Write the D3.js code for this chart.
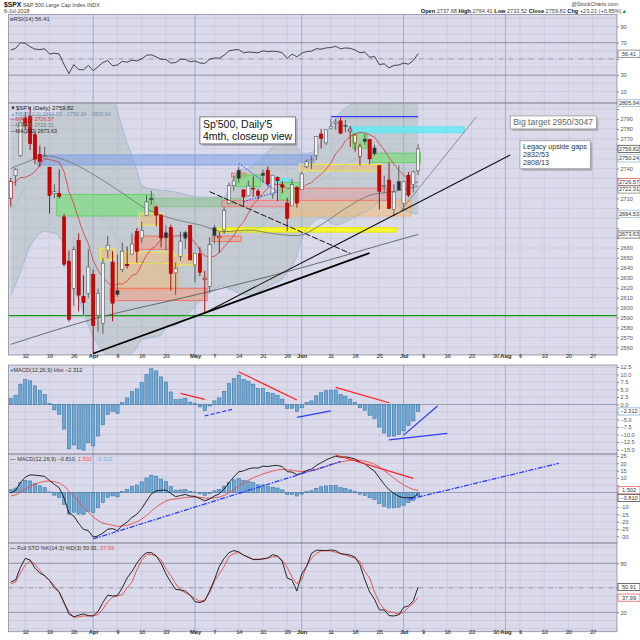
<!DOCTYPE html>
<html>
<head>
<meta charset="utf-8">
<script src="https://cdn.jsdelivr.net/npm/d3@7"></script>
<style>
  body { margin: 0; background: #fff; }
  svg { display: block; font-family: "Liberation Sans", Arial, sans-serif; }
</style>
</head>
<body>
<div id="chart"></div>
<script>
// ---------------- data ----------------
const holidays = ["2018-03-30", "2018-05-28", "2018-07-04", "2018-09-03"];
const priorClose = 2728.12;

const opens = [2710.18,2732.75,2752.91,2790.54,2792.31,2774.06,2754.27,2750.57,2741.38,2715.05,
  2714.99,2691.36,2646.71,2619.35,2667.57,2611.30,2614.41,2633.45,2592.17,2584.04,
  2657.36,2645.82,2617.18,2638.41,2643.56,2653.83,2676.90,2670.10,2692.74,2710.11,
  2701.16,2692.56,2675.40,2680.80,2634.92,2651.65,2675.47,2682.51,2642.96,2654.24,
  2628.08,2621.45,2680.34,2670.26,2678.12,2705.02,2722.70,2738.47,2718.59,2712.62,
  2719.71,2717.35,2735.39,2738.34,2713.98,2730.94,2723.60,2705.11,2702.43,2720.98,
  2718.70,2741.67,2748.46,2753.25,2774.84,2765.84,2780.18,2785.60,2787.94,2783.21,
  2777.78,2765.79,2752.01,2769.73,2769.28,2760.79,2742.94,2722.12,2728.45,2698.69,
  2727.13,2704.95,2733.27,2724.19,2737.68];
const highs = [2730.60,2740.45,2786.57,2796.98,2801.90,2777.11,2763.03,2761.85,2741.38,2724.22,
  2739.14,2694.35,2657.67,2661.36,2674.78,2632.65,2659.07,2638.30,2619.14,2649.86,
  2672.08,2656.88,2653.55,2665.45,2661.43,2674.72,2680.26,2686.49,2713.34,2717.49,
  2702.84,2693.94,2682.86,2683.55,2645.30,2676.48,2677.35,2682.87,2655.27,2660.87,
  2637.14,2670.93,2683.35,2676.34,2701.27,2726.11,2732.86,2742.10,2718.59,2727.76,
  2731.96,2719.50,2739.19,2742.24,2733.33,2731.97,2727.36,2710.67,2729.34,2722.50,
  2736.93,2749.16,2752.61,2772.39,2779.90,2779.39,2790.21,2789.80,2791.47,2789.06,
  2782.81,2774.99,2765.05,2774.86,2769.28,2764.17,2742.94,2732.91,2746.09,2724.34,
  2743.26,2727.26,2736.58,2737.83,2764.41];
const lows = [2701.74,2722.65,2751.54,2779.26,2758.68,2744.38,2741.47,2749.97,2694.59,2710.05,
  2709.79,2641.59,2585.89,2601.81,2596.12,2593.06,2609.72,2553.80,2575.49,2573.61,
  2649.58,2586.27,2610.79,2635.78,2639.25,2653.83,2645.05,2665.16,2692.05,2703.63,
  2681.90,2660.61,2657.99,2617.32,2612.67,2647.16,2659.01,2648.04,2625.41,2631.70,
  2594.62,2615.32,2664.70,2655.20,2674.14,2704.54,2717.45,2725.47,2701.91,2712.17,
  2711.36,2709.18,2725.70,2721.88,2709.54,2707.38,2714.99,2676.81,2702.43,2700.68,
  2718.70,2740.54,2739.51,2748.46,2760.16,2763.59,2780.17,2778.78,2774.65,2776.52,
  2761.73,2757.12,2743.19,2763.91,2744.39,2752.68,2698.67,2715.60,2699.38,2691.99,
  2718.03,2698.95,2711.16,2716.02,2733.52];
const closes = [2726.80,2738.97,2786.57,2783.02,2765.31,2749.48,2747.33,2752.01,2712.92,2716.94,
  2711.93,2643.69,2588.26,2658.55,2612.62,2605.00,2640.87,2581.88,2614.45,2644.69,
  2662.84,2604.47,2613.16,2656.87,2642.19,2663.99,2656.30,2677.84,2706.39,2708.64,
  2693.13,2670.14,2670.29,2634.56,2639.40,2666.94,2669.91,2648.05,2654.80,2635.67,
  2629.73,2663.42,2672.63,2671.92,2697.79,2723.07,2727.72,2730.13,2711.45,2722.46,
  2720.13,2712.97,2733.01,2724.44,2733.29,2727.76,2721.33,2689.86,2724.01,2705.27,
  2734.62,2746.87,2748.80,2772.35,2770.37,2779.03,2782.00,2786.85,2775.63,2782.49,
  2779.66,2773.75,2762.59,2767.32,2749.76,2754.88,2717.07,2723.06,2699.63,2716.31,
  2718.37,2726.71,2713.22,2736.61,2759.82];

const ma10 = [2723.4,2726.9,2730.9,2731.2,2733.3,2736.8,2743.7,2749.8,2749.0,2747.9,
  2746.4,2736.9,2717.0,2704.6,2689.4,2675.0,2664.4,2647.4,2637.5,2630.3,
  2625.4,2621.4,2623.9,2623.7,2626.6,2632.5,2634.0,2643.6,2652.8,2659.2,
  2662.2,2668.8,2674.5,2672.3,2672.0,2672.3,2673.7,2670.7,2665.6,2658.3,
  2652.0,2651.3,2651.6,2655.3,2661.2,2666.8,2672.6,2680.8,2686.4,2695.0,
  2704.0,2709.0,2715.0,2720.2,2723.7,2724.2,2723.5,2719.5,2720.8,2719.1,
  2720.6,2724.0,2725.6,2730.4,2734.1,2739.2,2745.3,2755.0,2760.2,2767.9,
  2772.4,2775.1,2776.5,2776.0,2774.0,2771.6,2765.1,2758.7,2751.1,2744.5,
  2738.3,2733.6,2728.6,2725.6,2726.57];
const ma20 = [2700.8,2703.6,2713.9,2722.1,2727.5,2731.8,2734.2,2735.3,2734.3,2734.4,
  2734.9,2731.9,2724.0,2717.9,2711.4,2705.9,2704.1,2698.6,2693.3,2689.1,
  2685.9,2679.2,2670.5,2664.2,2658.0,2653.8,2649.2,2645.5,2645.2,2644.8,
  2643.8,2645.1,2649.2,2648.0,2649.3,2652.4,2653.9,2657.2,2659.2,2658.8,
  2657.1,2660.1,2663.1,2663.8,2666.6,2669.6,2673.2,2675.8,2676.0,2676.7,
  2678.0,2680.2,2683.3,2687.8,2692.5,2695.5,2698.1,2700.2,2703.6,2707.1,
  2712.3,2716.5,2720.3,2725.3,2728.9,2731.7,2734.4,2737.3,2740.5,2743.5,
  2746.5,2749.6,2751.1,2753.2,2754.1,2755.4,2755.2,2756.9,2755.7,2756.2,
  2755.4,2754.4,2752.6,2750.8,2750.24];

const bbDates = ["2018-03-07","2018-03-09","2018-03-13","2018-03-16","2018-03-20","2018-03-22","2018-03-23",
  "2018-03-27","2018-04-02","2018-04-04","2018-04-06","2018-04-09","2018-04-10","2018-04-11","2018-04-12",
  "2018-04-13","2018-04-16","2018-04-18","2018-04-20","2018-04-23","2018-04-25","2018-05-02","2018-05-09",
  "2018-05-10","2018-05-11","2018-05-14","2018-05-16","2018-05-23","2018-05-25","2018-05-29","2018-05-31",
  "2018-06-01","2018-06-05","2018-06-07","2018-06-11","2018-06-12","2018-06-14","2018-06-19","2018-06-21",
  "2018-06-26","2018-06-28","2018-07-03","2018-07-06"];
const bbLower = [2611.8,2635.9,2661.3,2676.6,2674.9,2662.3,2630.8,2608.2,2571.0,2556.3,2544.8,2542.8,2547.4,
  2550.5,2554.6,2559.6,2567.9,2569.8,2572.3,2580.6,2582.3,2606.3,2622.1,2618.7,2616.8,2614.2,2612.9,2623.7,
  2628.9,2634.8,2652.5,2669.5,2684.3,2690.7,2685.4,2683.3,2686.3,2694.0,2698.8,2708.6,2705.8,2696.0,2694.53];
const bbUpper = [2789.8,2791.9,2793.7,2793.9,2793.8,2801.5,2817.2,2814.5,2826.2,2822.0,2813.6,2798.1,2781.0,
  2765.5,2753.0,2738.8,2723.1,2719.7,2718.0,2717.8,2716.3,2711.2,2711.1,2720.4,2729.6,2737.3,2740.4,2761.2,
  2767.3,2765.6,2761.6,2755.1,2756.3,2767.1,2783.3,2791.2,2800.7,2808.1,2809.3,2805.1,2806.6,2809.2,2805.94];

const ma50Dates = ["2018-03-07","2018-03-13","2018-03-16","2018-03-23","2018-03-29","2018-04-05","2018-04-11",
  "2018-04-16","2018-04-19","2018-04-25","2018-05-02","2018-05-09","2018-05-16","2018-05-23","2018-05-31",
  "2018-06-07","2018-06-14","2018-06-21","2018-06-28","2018-07-06"];
const ma50Vals = [2740,2748,2753,2747,2737,2725,2712,2702,2695,2688.6,2683.3,2676.5,2678.1,2674.6,2672.4,
  2683.5,2699.9,2713,2717,2722.31];
const ma200Dates = ["2018-03-07","2018-04-02","2018-05-01","2018-06-01","2018-07-02","2018-07-06"];
const ma200Vals = [2563,2588.5,2612.7,2640.2,2669.6,2673.63];

const rsi = [61,63,70,69,65,62,61.5,62.5,56,57,56,43,32,43,37,36.5,42,35.5,40.5,45.5,
  48,41.5,42.5,47,46,48.5,47.5,50,54.5,55,52.5,49.5,49.5,45,45.5,49.5,49.5,46.5,47.5,45,
  44.5,49.5,51,51,54.5,60,61,61.5,57.5,58.5,58,57.5,60,59,59.5,59,57.5,50.5,56,52.5,
  57,59,59.5,62.5,62,63.5,64,65.5,62.5,63.5,63,61,57.5,58.5,52,53,43,44,39,42,
  42.5,45,43.5,48,56.41];
const macdHist = [2.0,3.1,6.8,8.3,7.9,6.2,4.6,3.3,0.4,-1.8,-3.3,-8.2,-14.8,-13.5,-14.8,-15.2,-12.8,-13.8,-10.5,-6.8,
  -3.4,-2.3,-3.0,0.6,2.2,4.3,5.2,7.3,10.0,11.9,11.2,9.2,7.5,4.2,1.6,1.8,2.1,0.8,0.4,-0.8,
  -2.0,-0.5,1.2,2.2,4.4,7.0,8.7,9.8,8.3,7.8,6.8,5.3,5.3,4.0,3.7,3.1,1.8,-1.3,-1.3,-2.4,
  -1.1,0.6,1.2,2.9,3.9,4.6,4.8,4.8,3.3,2.8,1.8,0.7,-1.1,-1.9,-3.6,-4.7,-7.5,-9.5,-10.6,-10.5,
  -10.0,-8.8,-7.0,-5.5,-2.312];
const macdLine = [-0.4,1.5,6.9,10.5,12.1,11.9,11.5,11.0,8.2,5.55,3.2,-3.7,-14.0,-16.1,-21.1,-25.3,-26.1,-30.5,-29.8,-27.8,
  -25.2,-24.7,-26.2,-22.4,-20.3,-17.1,-14.9,-11.0,-5.8,-0.9,1.2,1.5,1.7,-0.6,-2.8,-2.1,-1.3,-2.4,-2.7,-4.1,
  -5.8,-4.4,-2.4,-0.9,2.4,6.8,10.65,14.2,14.8,16.2,16.9,16.75,18.1,17.8,18.4,18.6,17.7,14.3,14.0,12.3,
  13.3,15.15,16.05,18.5,20.45,22.3,23.7,24.9,24.2,24.4,23.9,22.95,20.9,19.6,17.0,14.7,10.1,5.7,1.9,-0.6,
  -2.6,-3.6,-3.5,-3.4,-0.81];
const macdSignal = [-2.4,-1.6,0.1,2.2,4.2,5.7,6.9,7.7,7.8,7.35,6.5,4.5,0.8,-2.6,-6.3,-10.1,-13.3,-16.7,-19.3,-21.0,
  -21.8,-22.4,-23.17,-23.0,-22.47,-21.4,-20.1,-18.27,-15.77,-12.8,-10.0,-7.7,-5.82,-4.77,-4.37,-3.92,-3.4,-3.2,-3.1,-3.3,
  -3.8,-3.92,-3.62,-3.07,-1.97,-0.22,1.95,4.4,6.47,8.42,10.12,11.45,12.77,13.77,14.7,15.47,15.92,15.6,15.27,14.67,
  14.4,14.55,14.85,15.58,16.55,17.7,18.9,20.1,20.93,21.63,22.08,22.26,21.98,21.51,20.61,19.43,17.56,15.18,12.53,9.91,
  7.41,5.21,3.46,2.08,1.502];
const stoK = [57,59.5,75,86,84,74,68,65,59,50,45,32,18,14.5,16.5,18,16,15.5,21,32,
  41,40,40.5,50,62,70,80,88,93,93,89,80,67,57,48,47.5,46,41,33,32,
  34,46,60,76,86,93,95.5,94,90,87.5,84.5,84.5,85.5,86.5,90.5,89,82,62,59.5,46,
  67,76,92,96,95.8,95.4,96.3,95.4,92,91,90,87.5,78,60,45,36,23,23,16,15.5,
  17,26,28,34,50.91];
const stoD = [55,57,68,78,83,79,71,64,59,53,44,31,21,14,14.5,15.5,15.5,16,17,24,
  33,38.5,40,41.5,50,57,72,84,90.5,91,88.5,84,73,65,55,47,44,41,37,33.5,
  35,44,58,67,76,88,92,93,90,87,85,85,85,86,88,88,84,75,63,55,
  60,77,86,92,95,95.4,95,93.5,91.5,90,88,86,82,70,62,45,32,24,21,19.5,
  17.5,20,26,31,37.99];

const tickDates = ["2018-03-12","2018-03-19","2018-03-26","2018-04-02","2018-04-09","2018-04-16","2018-04-23",
  "2018-05-01","2018-05-07","2018-05-14","2018-05-21","2018-05-29","2018-06-01","2018-06-11","2018-06-18",
  "2018-06-25","2018-07-02","2018-07-09","2018-07-16","2018-07-23","2018-07-30","2018-08-01","2018-08-06",
  "2018-08-13","2018-08-20","2018-08-27"];
const tickLabels = ["12","19","26","Apr","9","16","23","May","7","14","21","29","Jun","11","18","25","Jul",
  "9","16","23","30","Aug","6","13","20","27"];

// price zones drawn on the chart: from, to, low, high, kind
const zones = [
  ["2018-03-15","2018-06-05",2743.6,2753.7,"blue"],
  ["2018-03-21","2018-04-18",2692.2,2714.0,"green"],
  ["2018-04-18","2018-05-14",2701.6,2710.0,"greenDull"],
  ["2018-04-09","2018-04-25",2617.7,2644.6,"orange"],
  ["2018-04-06","2018-05-03",2607.0,2619.5,"salmon"],
  ["2018-04-13","2018-04-24",2658.7,2672.0,"salmon"],
  ["2018-04-16","2018-04-20",2683.0,2695.0,"orangeY"],
  ["2018-04-04","2018-04-06",2648.0,2659.7,"orangeY"],
  ["2018-04-11","2018-04-24",2644.6,2656.0,"orangeY"],
  ["2018-04-25","2018-05-01",2643.0,2653.0,"orangeY"],
  ["2018-05-07","2018-05-14",2666.5,2672.0,"salmon"],
  ["2018-05-30","2018-07-03",2692.2,2708.4,"orange"],
  ["2018-05-09","2018-05-29",2701.6,2708.0,"pink"],
  ["2018-05-31","2018-06-26",2707.7,2720.3,"pink"],
  ["2018-05-08","2018-06-28",2676.0,2680.5,"yellow"],
  ["2018-05-11","2018-05-15",2731.5,2735.5,"salmon"],
  ["2018-05-14","2018-05-18",2721.7,2733.5,"green"],
  ["2018-05-24","2018-05-29",2726.0,2730.0,"cyan"],
  ["2018-05-25","2018-05-31",2708.4,2725.9,"green"],
  ["2018-06-01","2018-06-25",2737.6,2744.3,"orangeY"],
  ["2018-06-18","2018-06-20",2760.5,2777.0,"green"],
  ["2018-06-15","2018-07-19",2776.0,2782.0,"cyan"],
  ["2018-06-22","2018-07-06",2746.0,2755.5,"green"]
];
const greenLevel = 2592;

// hand drawn lines: from, value, to, value, kind
const priceLines = [
  ["2018-04-02",2553.8,"2018-06-21",2655.0,"thick"],
  ["2018-05-03",2594.6,"2018-08-02",2753.7,"black"],
  ["2018-05-04",2716.7,"2018-06-15",2654.6,"dashBlack"],
  ["2018-06-29",2695.0,"2018-07-24",2792.0,"gray"],
  ["2018-05-14",2745.3,"2018-05-24",2716.7,"dotBlue"],
  ["2018-05-15",2706.6,"2018-05-24",2716.7,"dotBlue"],
  ["2018-06-11",2792.3,"2018-07-06",2792.3,"blue"]
];
const histLines = [
  ["2018-04-26",3.7,"2018-05-03",1.7,"red"],
  ["2018-05-03",-3.8,"2018-05-11",-1.5,"dashBlue"],
  ["2018-05-14",10.9,"2018-05-31",1.5,"red"],
  ["2018-05-31",-4.3,"2018-06-11",-2.1,"blue"],
  ["2018-06-12",5.7,"2018-06-27",0.6,"red"],
  ["2018-06-27",-11.8,"2018-07-16",-9.6,"blue"],
  ["2018-07-02",-10.2,"2018-07-12",-0.5,"blue"]
];
const macdLines = [
  ["2018-04-02",-31.8,"2018-06-13",21.2,"dashDotBlue"],
  ["2018-06-12",25.7,"2018-07-05",9.7,"red"],
  ["2018-07-03",-4.7,"2018-08-16",20.0,"dashDotBlue"]
];

const notes = [
  {date: "2018-05-02", price: 2792, lines: ["Sp'500, Daily'5", "4mth, closeup view"], kind: "big"},
  {date: "2018-08-02", price: 2793, lines: ["Big target 2950/3047"], kind: "mid"},
  {date: "2018-08-06", price: 2768, lines: ["Legacy upside gaps", "2832/53", "2808/13"], kind: "small"}
];

// ---------------- styles ----------------
const zoneStyle = {
  blue:      {fill: "rgba(120,155,235,0.50)", stroke: "#7c9ce8"},
  green:     {fill: "rgba(115,225,115,0.62)", stroke: "#5fd05f"},
  greenDull: {fill: "rgba(135,195,135,0.50)", stroke: "#8cc88c"},
  cyan:      {fill: "rgba(100,235,245,0.85)", stroke: "#5fe2ee"},
  orangeY:   {fill: "rgba(242,190,120,0.55)", stroke: "#f2f23c"},
  orange:    {fill: "rgba(242,188,120,0.55)", stroke: "#f0b070"},
  pink:      {fill: "rgba(236,150,150,0.45)", stroke: "#f07878"},
  salmon:    {fill: "rgba(240,160,130,0.55)", stroke: "#f06a5a"},
  yellow:    {fill: "rgba(250,250,30,0.90)",  stroke: "#e6e600"}
};
const lineStyle = {
  thick:       {stroke: "#000", width: 1.8},
  black:       {stroke: "#111", width: 1.1},
  dashBlack:   {stroke: "#111", width: 1, dash: "6,2"},
  gray:        {stroke: "#777", width: 0.8},
  dotBlue:     {stroke: "#2a3cff", width: 1, dash: "1.5,1.5"},
  blue:        {stroke: "#2a3cff", width: 1.2},
  dashBlue:    {stroke: "#2a3cff", width: 1.2, dash: "4,2"},
  red:         {stroke: "#ff2020", width: 1.2},
  dashDotBlue: {stroke: "#2a3cff", width: 1.3, dash: "5,1.5,1.5,1.5"}
};
const noteStyle = {
  big:   {size: 10.5, lh: 12, color: "#111", stroke: "#666"},
  mid:   {size: 8.6, lh: 10, color: "#666", stroke: "#999"},
  small: {size: 7.2, lh: 8, color: "#333", stroke: "#999"}
};

// ---------------- helpers ----------------
function sessions(start, end, skip) {
  const out = [];
  const d = new Date(start + "T12:00:00Z");
  const stop = new Date(end + "T12:00:00Z");
  while (d <= stop) {
    const s = d.toISOString().slice(0, 10);
    const wd = d.getUTCDay();
    if (wd > 0 && wd < 6 && !skip.includes(s)) out.push(s);
    d.setUTCDate(d.getUTCDate() + 1);
  }
  return out;
}
const days = sessions("2018-03-07", "2018-09-14", holidays);
const sIdx = new Map(days.map((d, i) => [d, i]));
const si = d => sIdx.get(d);
const isMonth = i => isNaN(+tickLabels[i]);

const W = 640, H = 640, plotL = 8.5, plotR = 617;
const BG = "#dadaea", GRID = "#c5c5d9", MONTH = "#8fabd0";
const FONT = "Liberation Sans, Arial, sans-serif";

const svg = d3.select("#chart").append("svg").attr("width", W).attr("height", H);
svg.append("rect").attr("width", W).attr("height", H).attr("fill", "#fff");
const defs = svg.append("defs");

const x = d3.scaleLinear().domain([-0.46, 125]).range([plotL, plotR]);
const half = (x(1) - x(0)) / 2;

const panelDefs = [
  {name: "rsi",   top: 14.5, bottom: 103,   domain: [-4.2, 104.6], grid: [10,20,40,60,80,90,100],
   labels: [10,30,50,70,90]},
  {name: "price", top: 103,  bottom: 355,   domain: [2552.3, 2806.0], grid: d3.range(2560, 2801, 10),
   labels: d3.range(2560, 2801, 10)},
  {name: "hist",  top: 365,  bottom: 454,   domain: [-16.5, 13.17], grid: d3.range(-15, 12.6, 2.5),
   labels: d3.range(-15, 12.6, 2.5), fmt: d3.format(".1f")},
  {name: "macd",  top: 454,  bottom: 543,   domain: [-34.6, 26.4], grid: d3.range(-30, 26, 5),
   labels: d3.range(-30, 26, 5)},
  {name: "sto",   top: 543,  bottom: 631.7, domain: [-3.7, 104.8], grid: [0,10,30,40,60,70,90,100],
   labels: [20,50,80]}
];

function makePanel(def) {
  const y = d3.scaleLinear().domain(def.domain).range([def.bottom, def.top]);
  const g = svg.append("g").attr("class", "panel-" + def.name);
  g.append("rect").attr("x", plotL).attr("y", def.top)
    .attr("width", plotR - plotL).attr("height", def.bottom - def.top).attr("fill", BG);
  g.append("g").selectAll("line").data(def.grid).join("line")
    .attr("x1", plotL).attr("x2", plotR)
    .attr("y1", d => y(d)).attr("y2", d => y(d))
    .attr("stroke", GRID).attr("stroke-width", 0.6);
  g.append("g").selectAll("line").data(tickDates).join("line")
    .attr("x1", d => x(si(d))).attr("x2", d => x(si(d)))
    .attr("y1", def.top).attr("y2", def.bottom)
    .attr("stroke", (d, i) => isMonth(i) ? MONTH : GRID)
    .attr("stroke-width", (d, i) => isMonth(i) ? 0.9 : 0.6);
  const clipId = "clip-" + def.name;
  defs.append("clipPath").attr("id", clipId).append("rect")
    .attr("x", plotL).attr("y", def.top).attr("width", plotR - plotL).attr("height", def.bottom - def.top);
  const body = g.append("g").attr("clip-path", `url(#${clipId})`);

  const ax = svg.append("g").attr("transform", `translate(${plotR},0)`)
    .call(d3.axisRight(y).tickValues(def.labels).tickSize(2).tickPadding(1.5)
      .tickFormat(def.fmt || (d => d)));
  ax.select(".domain").remove();
  ax.selectAll("line").attr("stroke", "#888");
  ax.selectAll("text").attr("font-size", 5.6).attr("fill", "#555").attr("font-family", FONT);
  return {def, y, g, body, ax, boxes: []};
}

function refLine(p, v, color, dash, width) {
  p.body.append("line").attr("x1", plotL).attr("x2", plotR)
    .attr("y1", p.y(v)).attr("y2", p.y(v))
    .attr("stroke", color).attr("stroke-width", width || 0.9)
    .attr("stroke-dasharray", dash || null);
}

function series(p, values, color, width, dash) {
  p.body.append("path").datum(values)
    .attr("fill", "none").attr("stroke", color).attr("stroke-width", width)
    .attr("stroke-dasharray", dash || null)
    .attr("d", d3.line().x((d, i) => x(i)).y(d => p.y(d)));
}

function sampled(p, dates, vals, color, width) {
  p.body.append("path").datum(dates.map((d, i) => [si(d), vals[i]]))
    .attr("fill", "none").attr("stroke", color).attr("stroke-width", width)
    .attr("d", d3.line().x(d => x(d[0])).y(d => p.y(d[1])).curve(d3.curveMonotoneX));
}

function drawLines(p, list) {
  p.body.append("g").selectAll("line").data(list).join("line")
    .attr("x1", d => x(si(d[0]))).attr("y1", d => p.y(d[1]))
    .attr("x2", d => x(si(d[2]))).attr("y2", d => p.y(d[3]))
    .attr("stroke", d => lineStyle[d[4]].stroke)
    .attr("stroke-width", d => lineStyle[d[4]].width)
    .attr("stroke-dasharray", d => lineStyle[d[4]].dash || null);
}

function bars(p, values) {
  p.body.append("g").selectAll("rect").data(values).join("rect")
    .attr("x", (d, i) => x(i) - 1.65).attr("width", 3.3)
    .attr("y", d => p.y(Math.max(0, d)))
    .attr("height", d => Math.abs(p.y(d) - p.y(0)))
    .attr("fill", "#6ea9d6").attr("stroke", "#2d6a9a").attr("stroke-width", 0.5);
}

function legend(xp, yp, size, parts) {
  const t = svg.append("text").attr("x", xp).attr("y", yp).attr("font-size", size);
  parts.forEach(([s, c, w]) => t.append("tspan").text(s).attr("fill", c).attr("font-weight", w || null));
  return t;
}

// value boxes: collected per panel, spread so they do not overlap, then drawn
function addBox(p, v, label, color) { p.boxes.push({v, label, color}); }
function drawBoxes(p) {
  const bh = 7.2;
  const list = p.boxes.map(b => ({...b, yy: p.y(b.v)})).sort((a, b) => a.yy - b.yy);
  for (let k = 1; k < list.length; k++) {
    if (list[k].yy - list[k - 1].yy < bh + 0.4) list[k].yy = list[k - 1].yy + bh + 0.4;
  }
  // hide axis labels covered by a box
  p.ax.selectAll(".tick").filter(d => list.some(b => Math.abs(p.y(d) - b.yy) < 6.6)).select("text").remove();
  list.forEach(b => {
    const g = svg.append("g").attr("transform", `translate(${plotR + 1},${b.yy})`);
    g.append("rect").attr("x", 0).attr("y", -bh / 2).attr("width", 22).attr("height", bh)
      .attr("fill", "#fff").attr("stroke", b.color).attr("stroke-width", 0.7);
    g.append("text").attr("x", 11).attr("y", 2).attr("text-anchor", "middle")
      .attr("font-size", 5.6).attr("fill", "#333").text(b.label);
  });
}

function dateAxis(yPos, labelY) {
  const ax = svg.append("g").attr("transform", `translate(0,${yPos})`)
    .call(d3.axisBottom(x).tickValues(tickDates.map(si)).tickSize(2)
      .tickFormat((d, i) => tickLabels[i]));
  ax.select(".domain").remove();
  ax.selectAll("line").attr("stroke", "#888");
  ax.selectAll("text").attr("y", labelY).attr("dy", null)
    .attr("font-size", 5.8).attr("fill", "#333").attr("font-family", FONT)
    .attr("font-weight", (d, i) => isMonth(i) ? "bold" : null);
}

// ---------------- panels ----------------
const P = {};
panelDefs.forEach(def => { P[def.name] = makePanel(def); });

// RSI
refLine(P.rsi, 70, "#8a8a9c");
refLine(P.rsi, 30, "#8a8a9c");
refLine(P.rsi, 50, "#8a8a9c", "5,2,1,2");
series(P.rsi, rsi, "#333", 0.9);

// Price
const pr = P.price;
const bbArea = d3.area().x(d => x(d[0])).y0(d => pr.y(d[1])).y1(d => pr.y(d[2])).curve(d3.curveMonotoneX);
const bbData = bbDates.map((d, i) => [si(d), bbLower[i], bbUpper[i]]);
pr.body.append("path").datum(bbData).attr("d", bbArea).attr("fill", "#a9b8b6").attr("opacity", 0.45);

pr.body.append("g").selectAll("rect").data(zones).join("rect")
  .attr("x", d => x(si(d[0])) - half).attr("width", d => x(si(d[1])) - x(si(d[0])) + 2 * half)
  .attr("y", d => pr.y(d[3])).attr("height", d => pr.y(d[2]) - pr.y(d[3]))
  .attr("fill", d => zoneStyle[d[4]].fill).attr("stroke", d => zoneStyle[d[4]].stroke).attr("stroke-width", 0.9);

refLine(pr, greenLevel, "#0c9a0c", null, 1.2);
sampled(pr, bbDates, bbUpper, "#90b2d2", 0.7);
sampled(pr, bbDates, bbLower, "#90b2d2", 0.7);
series(pr, ma20, "#8fb0d4", 0.8, "1.5,1.5");
sampled(pr, ma200Dates, ma200Vals, "#4a5252", 0.8);
sampled(pr, ma50Dates, ma50Vals, "#6f7d6f", 0.9);
series(pr, ma10, "#d23a3a", 0.8);

const candles = closes.map((c, i) => ({i, o: opens[i], h: highs[i], l: lows[i], c,
  prev: i ? closes[i - 1] : priorClose}));
const cg = pr.body.append("g").selectAll("g").data(candles).join("g");
const edge = d => d.c < d.prev ? "#a00000" : "#555";
cg.append("line")
  .attr("x1", d => x(d.i)).attr("x2", d => x(d.i))
  .attr("y1", d => pr.y(d.h)).attr("y2", d => pr.y(d.l))
  .attr("stroke", edge).attr("stroke-width", 0.9);
cg.append("rect")
  .attr("x", d => x(d.i) - 1.6).attr("width", 3.2)
  .attr("y", d => pr.y(Math.max(d.o, d.c)))
  .attr("height", d => Math.max(0.8, Math.abs(pr.y(d.o) - pr.y(d.c))))
  .attr("fill", d => d.c >= d.o ? "#f1f1f6" : (d.c < d.prev ? "#d40000" : "#1f2d3c"))
  .attr("stroke", edge).attr("stroke-width", 0.6);

drawLines(pr, priceLines);

// notes
notes.forEach(n => {
  const st = noteStyle[n.kind];
  const g = svg.append("g").attr("transform", `translate(${x(si(n.date))},${pr.y(n.price)})`);
  const shadow = g.append("rect");
  const box = g.append("rect");
  const t = g.append("text").attr("font-size", st.size).attr("fill", st.color);
  n.lines.forEach((s, k) => t.append("tspan").attr("x", 3).attr("y", 2 + st.size * 0.85 + k * st.lh).text(s));
  const bb = t.node().getBBox();
  const bw = bb.width + 6, bh = bb.height + 3;
  shadow.attr("x", 2).attr("y", 2).attr("width", bw).attr("height", bh).attr("fill", "#9a9aa6").attr("opacity", 0.7);
  box.attr("x", 0).attr("y", 0).attr("width", bw).attr("height", bh)
    .attr("fill", "#fff").attr("stroke", st.stroke).attr("stroke-width", 0.8);
});

// MACD histogram panel
refLine(P.hist, 0, "#9a9aae");
bars(P.hist, macdHist);
drawLines(P.hist, histLines);

// MACD panel
refLine(P.macd, 0, "#9a9aae");
bars(P.macd, macdHist);
series(P.macd, macdSignal, "#e84a4a", 0.9);
series(P.macd, macdLine, "#111", 0.9);
drawLines(P.macd, macdLines);

// Stochastics
refLine(P.sto, 80, "#8a8a9c");
refLine(P.sto, 20, "#8a8a9c");
refLine(P.sto, 50, "#8a8a9c", "5,2,1,2");
series(P.sto, stoD, "#e84a4a", 0.9);
series(P.sto, stoK, "#111", 0.9);

// borders
panelDefs.forEach(def => {
  svg.append("rect").attr("x", plotL).attr("y", def.top)
    .attr("width", plotR - plotL).attr("height", def.bottom - def.top)
    .attr("fill", "none").attr("stroke", "#8c8c9c").attr("stroke-width", 0.8);
});

// date axes
dateAxis(P.price.def.bottom, 3);
dateAxis(P.sto.def.bottom, 2.5);

// ---------------- texts ----------------
const last = closes.length - 1;
const chg = closes[last] - closes[last - 1];
const f2 = d3.format(".2f"), f3 = d3.format(".3f");
legend(4, 6.5, 6.8, [["$SPX", "#111", "bold"]]).append("tspan")
  .text(" S&P 500 Large Cap Index  INDX").attr("font-size", 5.4).attr("fill", "#444");
legend(4, 13, 5.4, [["6-Jul-2018", "#444"]]);
legend(618, 6, 5.4, [["@StockCharts.com", "#444"]]).attr("text-anchor", "end");
legend(627, 13, 5.6, [
  ["Open ", "#111", "bold"], [f2(opens[last]) + " ", "#444"],
  ["High ", "#111", "bold"], [f2(highs[last]) + " ", "#444"],
  ["Low ", "#111", "bold"], [f2(lows[last]) + " ", "#444"],
  ["Close ", "#111", "bold"], [f2(closes[last]) + " ", "#444"],
  ["Chg ", "#111", "bold"],
  ["+" + f2(chg) + " (+" + f2(chg / closes[last - 1] * 100) + "%)", "#444"],
  ["\u25B2", "#1a9a1a"]
]).attr("text-anchor", "end");

legend(10, 20.5, 5.8, [["\u25A0", "#6b7f9a"], ["RSI(14) " + f2(rsi[last]), "#333"]]);

const bbL = bbLower[bbLower.length - 1], bbU = bbUpper[bbUpper.length - 1];
const m20 = ma20[last], m10 = ma10[last], m50 = ma50Vals[ma50Vals.length - 1], m200 = ma200Vals[ma200Vals.length - 1];
legend(10, 109.5, 6, [["\u25BC", "#333"], ["$SPX (Daily) " + f2(closes[last]), "#222"]]);
legend(10, 115.5, 5.4, [["\u25B2", "#8fb0d4"], ["BB(20,2.0) " + f2(bbL) + " - " + f2(m20) + " - " + f2(bbU), "#6f8fae"]]);
legend(10, 121.3, 5.4, [["\u2014", "#d23a3a"], ["MA(10) " + f2(m10), "#d23a3a"]]);
legend(10, 127.1, 5.4, [["\u2014", "#6f7d6f"], ["MA(50) " + f2(m50), "#6f7d6f"]]);
legend(10, 132.9, 5.4, [["\u2014", "#222"], ["MA(200) " + f2(m200), "#222"]]);

legend(10, 371.5, 5.6, [["\u25A0", "#6ea9d6"], ["MACD(12,26,9) Hist " + f3(macdHist[last]), "#333"]]);
legend(10, 460.5, 5.6, [["\u2014 ", "#111"], ["MACD(12,26,9) " + f3(macdLine[last]) + ", ", "#333"],
  [f3(macdSignal[last]), "#e84a4a"], [", " + f3(macdHist[last]), "#6ea9d6"]]);
legend(10, 549.5, 5.6, [["\u2014 ", "#111"], ["Full STO %K(14,3) %D(3) " + f2(stoK[last]) + ", ", "#333"],
  [f2(stoD[last]), "#e84a4a"]]);

// value boxes on the right axis
addBox(P.rsi, rsi[last], f2(rsi[last]), "#666");
addBox(pr, bbU, f2(bbU), "#90b2d2");
addBox(pr, closes[last], f2(closes[last]), "#333");
addBox(pr, m20, f2(m20), "#90b2d2");
addBox(pr, m10, f2(m10), "#d23a3a");
addBox(pr, m50, f2(m50), "#6f7d6f");
addBox(pr, bbL, f2(bbL), "#90b2d2");
addBox(pr, m200, f2(m200), "#4a5252");
addBox(P.hist, macdHist[last], f3(macdHist[last]), "#6ea9d6");
addBox(P.macd, macdSignal[last], f3(macdSignal[last]), "#e84a4a");
addBox(P.macd, macdLine[last], f3(macdLine[last]), "#333");
addBox(P.sto, stoD[last], f2(stoD[last]), "#e84a4a");
addBox(P.sto, stoK[last], f2(stoK[last]), "#333");
Object.values(P).forEach(drawBoxes);
</script>
</body>
</html>
